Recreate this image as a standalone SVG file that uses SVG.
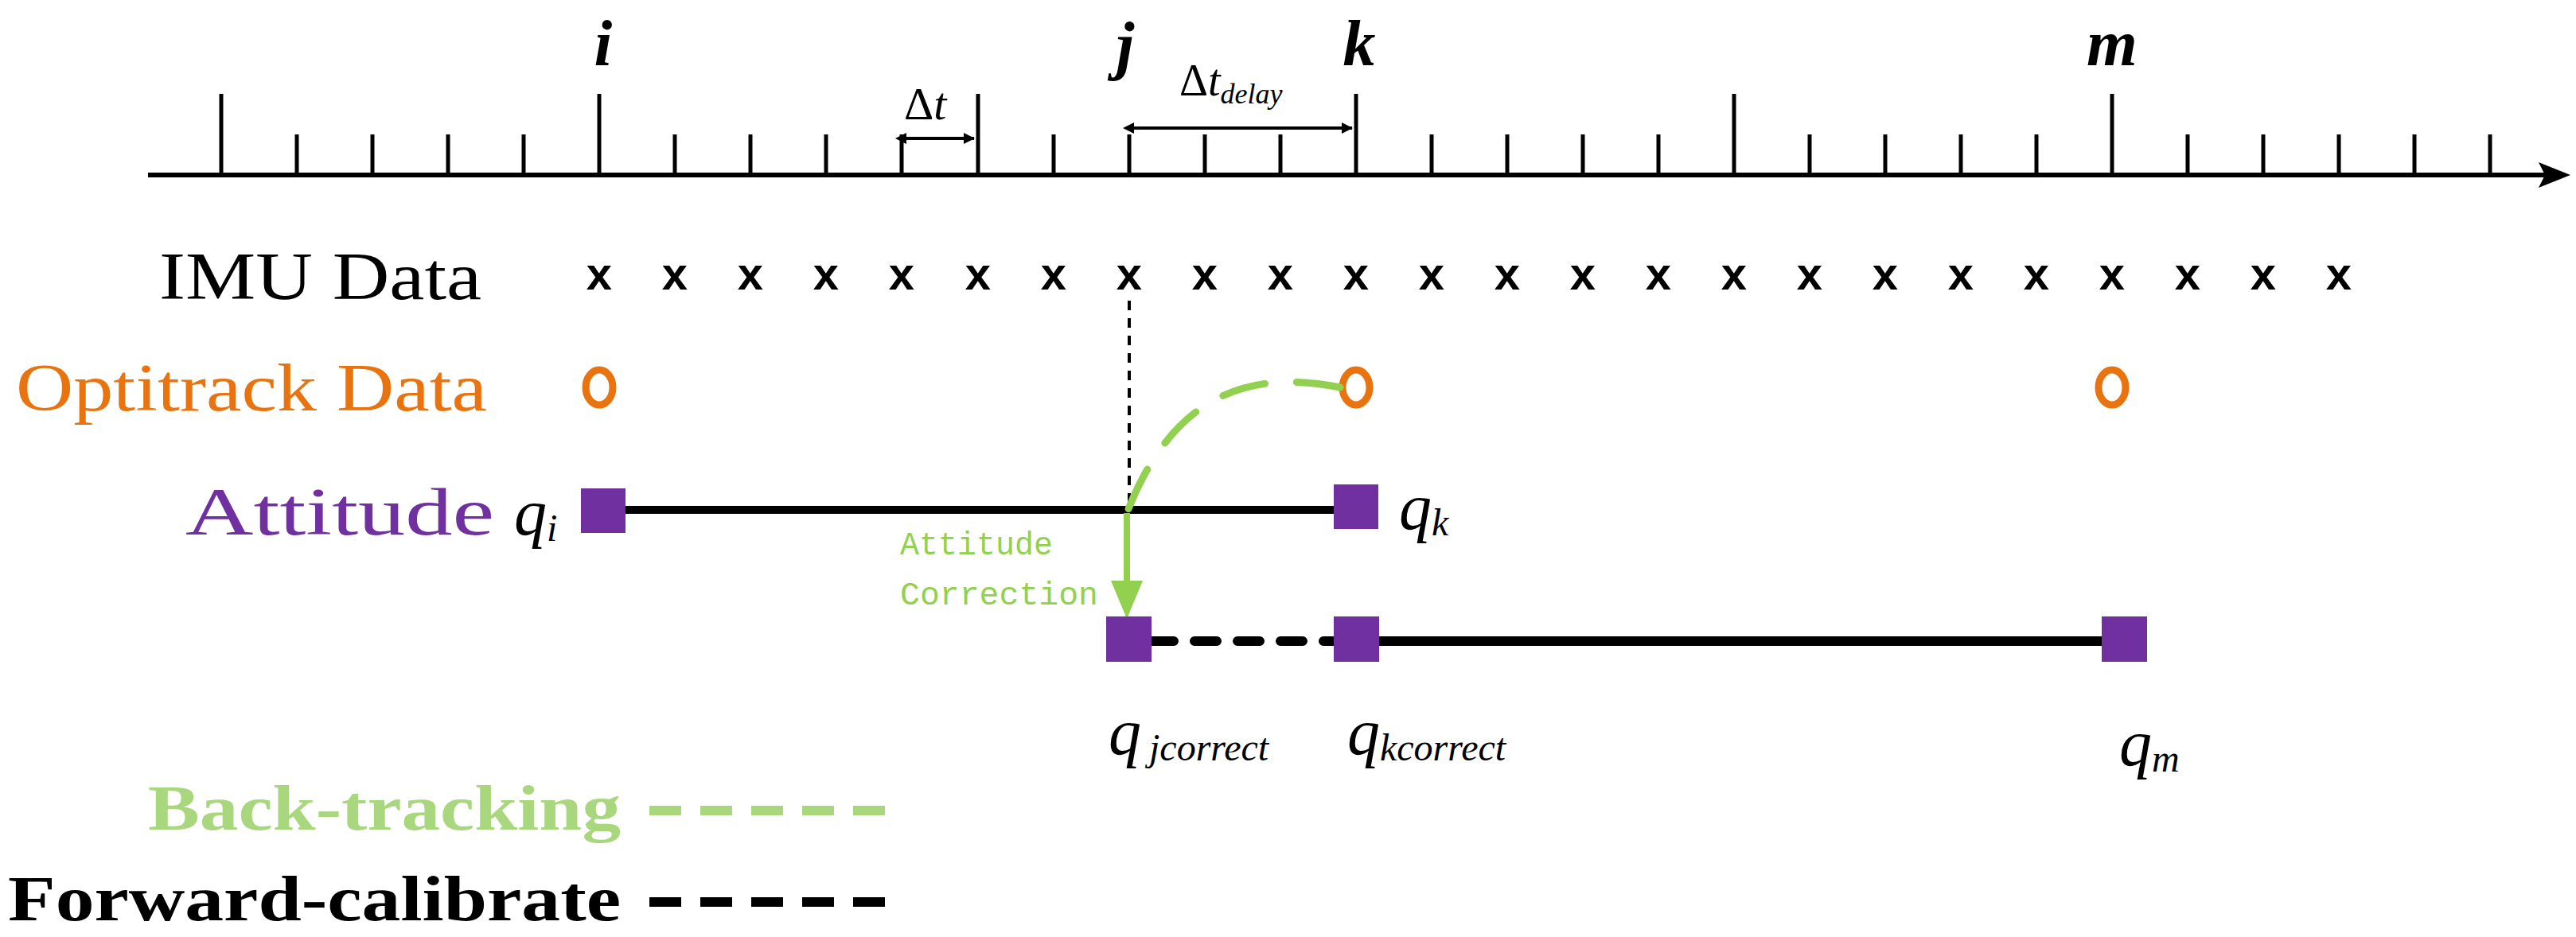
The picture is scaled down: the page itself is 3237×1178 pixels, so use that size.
<svg xmlns="http://www.w3.org/2000/svg" width="3237" height="1178" viewBox="0 0 3237 1178">
<defs>
<style>
.ax{stroke:#000;stroke-width:6;fill:none}
.tk{stroke:#000;stroke-width:5}
.ser{font-family:"Liberation Serif","Times New Roman",Tinos,serif}
.lbl{font-family:"Liberation Serif","Times New Roman",serif;font-style:italic;font-weight:bold;font-size:82px}
.q{font-family:"Liberation Serif","Times New Roman",serif;font-style:italic;font-size:82px}
.sub{font-size:48px}
.cx{font-family:"Liberation Sans",Arial,sans-serif;font-weight:bold;font-size:58px;text-anchor:middle}
.oc{fill:none;stroke:#E8730F;stroke-width:9}
.sq{fill:#7030A0}
.big{font-family:"Liberation Serif","Times New Roman",serif;font-size:84px}
.leg{font-family:"Liberation Serif","Times New Roman",serif;font-weight:bold;font-size:80px}
</style>
<marker id="ah" markerWidth="14" markerHeight="14" refX="13" refY="7" orient="auto" markerUnits="userSpaceOnUse" viewBox="0 0 14 14"><path d="M0,0 L14,7 L0,14 z"/></marker>
<marker id="ahs" markerWidth="14" markerHeight="14" refX="1" refY="7" orient="auto-start-reverse" markerUnits="userSpaceOnUse" viewBox="0 0 14 14"><path d="M0,0 L14,7 L0,14 z"/></marker>
</defs>
<g id="axis">
<line x1="186" y1="220" x2="3200" y2="220" class="ax"/>
<path d="M3230,220 L3190,204 L3198,220 L3190,236 z"/>
<g class="tk">
<line x1="278" y1="220" x2="278" y2="118"/><line x1="373" y1="220" x2="373" y2="169"/><line x1="468" y1="220" x2="468" y2="169"/><line x1="563" y1="220" x2="563" y2="169"/><line x1="658" y1="220" x2="658" y2="169"/>
<line x1="753" y1="220" x2="753" y2="118"/><line x1="848" y1="220" x2="848" y2="169"/><line x1="943" y1="220" x2="943" y2="169"/><line x1="1038" y1="220" x2="1038" y2="169"/><line x1="1133" y1="220" x2="1133" y2="169"/>
<line x1="1229" y1="220" x2="1229" y2="118"/><line x1="1324" y1="220" x2="1324" y2="169"/><line x1="1419" y1="220" x2="1419" y2="169"/><line x1="1514" y1="220" x2="1514" y2="169"/><line x1="1609" y1="220" x2="1609" y2="169"/>
<line x1="1704" y1="220" x2="1704" y2="118"/><line x1="1799" y1="220" x2="1799" y2="169"/><line x1="1894" y1="220" x2="1894" y2="169"/><line x1="1989" y1="220" x2="1989" y2="169"/><line x1="2084" y1="220" x2="2084" y2="169"/>
<line x1="2179" y1="220" x2="2179" y2="118"/><line x1="2274" y1="220" x2="2274" y2="169"/><line x1="2369" y1="220" x2="2369" y2="169"/><line x1="2464" y1="220" x2="2464" y2="169"/><line x1="2559" y1="220" x2="2559" y2="169"/>
<line x1="2654" y1="220" x2="2654" y2="118"/><line x1="2749" y1="220" x2="2749" y2="169"/><line x1="2844" y1="220" x2="2844" y2="169"/><line x1="2939" y1="220" x2="2939" y2="169"/><line x1="3034" y1="220" x2="3034" y2="169"/><line x1="3129" y1="220" x2="3129" y2="169"/>
</g>
<text x="758" y="82" class="lbl" text-anchor="middle">i</text>
<text x="1414" y="84" class="lbl" text-anchor="middle">j</text>
<text x="1708" y="82" class="lbl" text-anchor="middle">k</text>
<text x="2654" y="82" class="lbl" text-anchor="middle">m</text>
<line x1="1138" y1="174" x2="1224" y2="174" stroke="#000" stroke-width="4" marker-start="url(#ahs)" marker-end="url(#ah)"/>
<text x="1136" y="150" class="ser" font-size="58px">Δ<tspan font-style="italic">t</tspan></text>
<line x1="1424" y1="161" x2="1699" y2="161" stroke="#000" stroke-width="4" marker-start="url(#ahs)" marker-end="url(#ah)"/>
<text x="1482" y="120" class="ser" font-size="56px">Δ<tspan font-style="italic">t</tspan><tspan font-style="italic" font-size="36px" dy="10">delay</tspan></text>
</g>
<g id="imu">
<text x="200" y="376" class="big" textLength="405" lengthAdjust="spacingAndGlyphs">IMU Data</text>
<g class="cx">
<text x="753" y="364">x</text><text x="848" y="364">x</text><text x="943" y="364">x</text><text x="1038" y="364">x</text><text x="1133" y="364">x</text><text x="1229" y="364">x</text><text x="1324" y="364">x</text><text x="1419" y="364">x</text><text x="1514" y="364">x</text><text x="1609" y="364">x</text><text x="1704" y="364">x</text><text x="1799" y="364">x</text><text x="1894" y="364">x</text><text x="1989" y="364">x</text><text x="2084" y="364">x</text><text x="2179" y="364">x</text><text x="2274" y="364">x</text><text x="2369" y="364">x</text><text x="2464" y="364">x</text><text x="2559" y="364">x</text><text x="2654" y="364">x</text><text x="2749" y="364">x</text><text x="2844" y="364">x</text><text x="2939" y="364">x</text>
</g>
</g>
<g id="optitrack">
<text x="20" y="516" class="big" fill="#E8730F" textLength="592" lengthAdjust="spacingAndGlyphs">Optitrack Data</text>
<ellipse cx="753" cy="487" rx="17" ry="22" class="oc"/>
<ellipse cx="1704" cy="487" rx="17" ry="22" class="oc"/>
<ellipse cx="2654" cy="487" rx="17" ry="22" class="oc"/>
</g>
<g id="attitude">
<text x="233" y="672" class="big" fill="#7030A0" textLength="388" lengthAdjust="spacingAndGlyphs">Attitude</text>
</g>
<g id="connectors">
<line x1="786" y1="641" x2="1676" y2="641" stroke="#000" stroke-width="10"/>
<line x1="1447" y1="806" x2="1675" y2="806" stroke="#000" stroke-width="12" stroke-dasharray="28,26" stroke-linecap="round"/>
<line x1="1732" y1="806" x2="2641" y2="806" stroke="#000" stroke-width="12"/>
<line x1="1419" y1="378" x2="1419" y2="640" stroke="#000" stroke-width="4" stroke-dasharray="12,10"/>
<path d="M1684,487 C1560,462 1470,505 1416,645" fill="none" stroke="#92D050" stroke-width="9" stroke-dasharray="55,40" stroke-linecap="round"/>
<line x1="1416" y1="645" x2="1416" y2="732" stroke="#92D050" stroke-width="8"/>
<path d="M1396,730 L1436,730 L1416,778 z" fill="#92D050"/>
<text x="1131" y="697" font-family="Liberation Mono,monospace" font-size="40px" fill="#92D050">Attitude</text>
<text x="1131" y="760" font-family="Liberation Mono,monospace" font-size="40px" fill="#92D050" textLength="249" lengthAdjust="spacingAndGlyphs">Correction</text>
</g>
<g id="qi"><rect x="730" y="614" width="56" height="56" class="sq"/><text x="646" y="672" class="q">q<tspan class="sub" dy="8">i</tspan></text></g>
<g id="qk"><rect x="1676" y="609" width="56" height="56" class="sq"/><text x="1758" y="665" class="q">q<tspan class="sub" dy="8">k</tspan></text></g>
<g id="qj"><rect x="1390" y="775" width="57" height="57" class="sq"/><text x="1393" y="948" class="q">q<tspan class="sub" dx="10" dy="8">jcorrect</tspan></text></g>
<g id="qkc"><rect x="1676" y="775" width="57" height="57" class="sq"/><text x="1693" y="948" class="q">q<tspan class="sub" dy="8">kcorrect</tspan></text></g>
<g id="qm"><rect x="2641" y="775" width="57" height="57" class="sq"/><text x="2663" y="962" class="q">q<tspan class="sub" dy="8">m</tspan></text></g>
<g id="legend">
<text x="186" y="1043" class="leg" fill="#A9D77E" textLength="594" lengthAdjust="spacingAndGlyphs">Back-tracking</text>
<line x1="816" y1="1019" x2="1125" y2="1019" stroke="#A9D77E" stroke-width="12" stroke-dasharray="40,24"/>
<text x="10" y="1157" class="leg" textLength="770" lengthAdjust="spacingAndGlyphs">Forward-calibrate</text>
<line x1="816" y1="1134" x2="1125" y2="1134" stroke="#000" stroke-width="12" stroke-dasharray="40,24"/>
</g>
</svg>
